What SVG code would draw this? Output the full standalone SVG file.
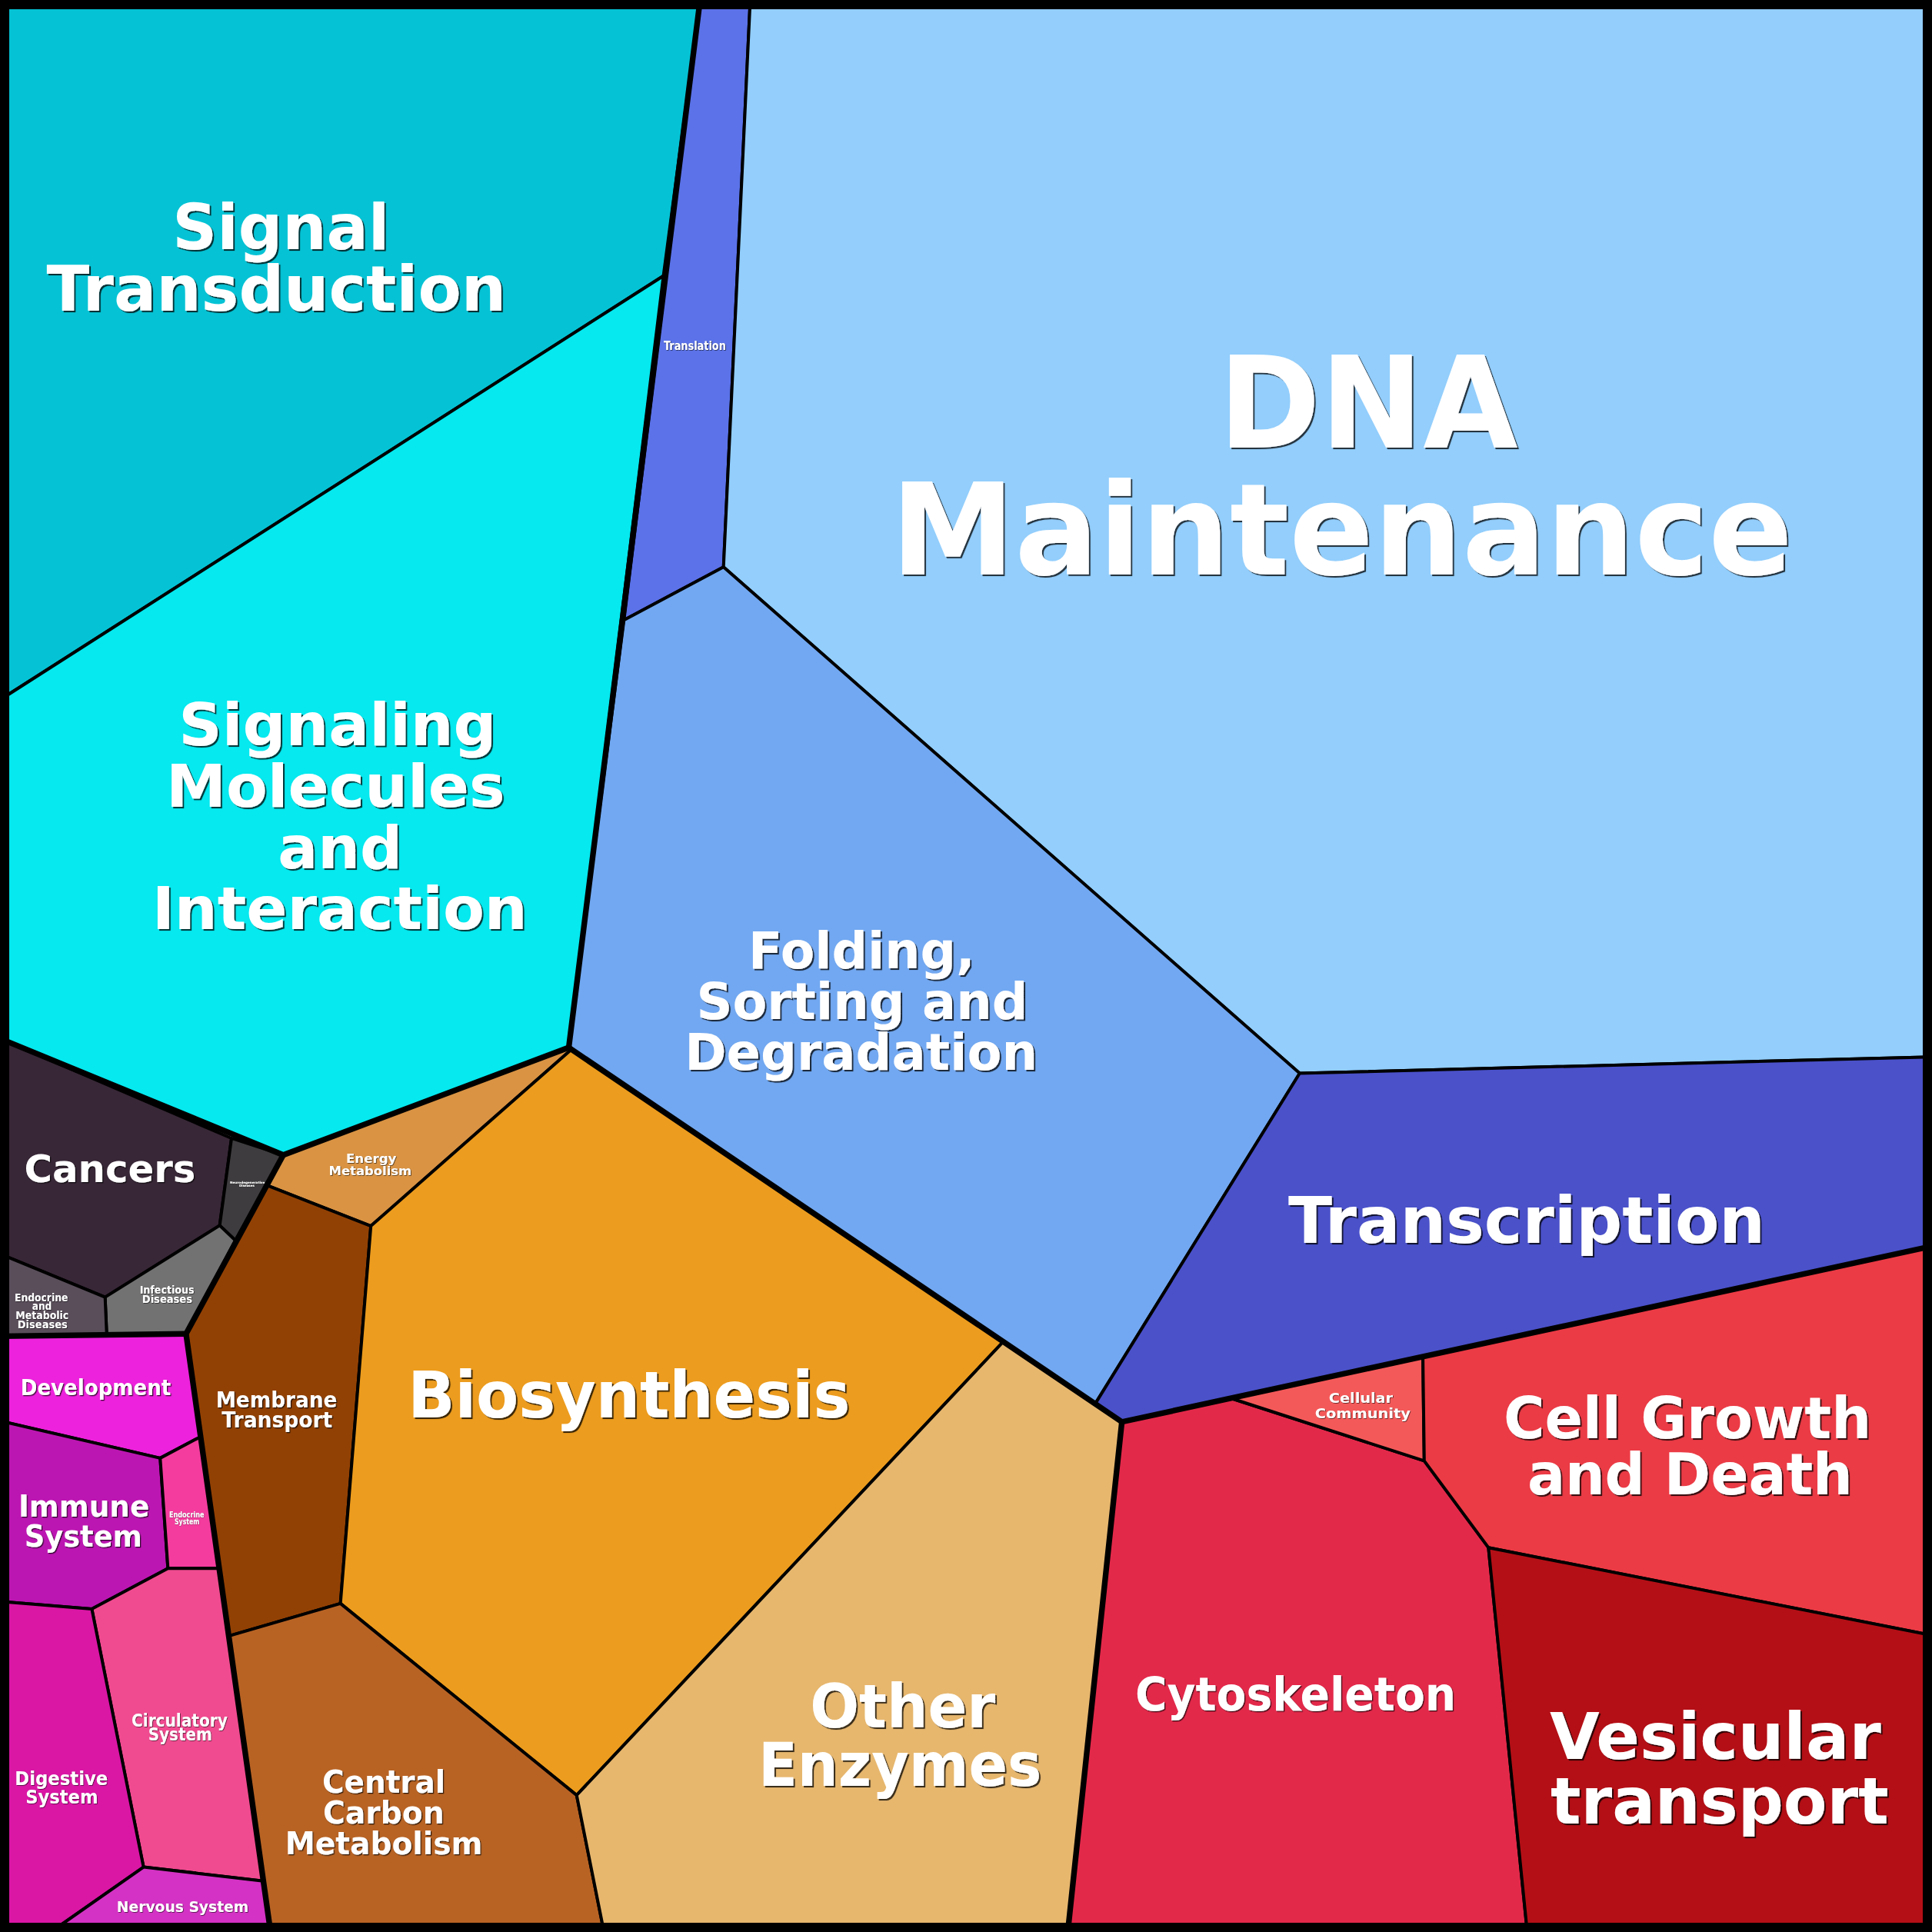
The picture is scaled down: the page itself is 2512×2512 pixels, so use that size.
<svg xmlns="http://www.w3.org/2000/svg" width="2512" height="2512" viewBox="0 0 2512 2512">
<defs>
<filter id="shL" x="-5%" y="-20%" width="115%" height="150%"><feDropShadow dx="1.3" dy="1.3" stdDeviation="0.4" flood-color="#000" flood-opacity="0.75"/></filter>
<filter id="shM" x="-5%" y="-20%" width="115%" height="150%"><feDropShadow dx="0.8" dy="0.8" stdDeviation="0.3" flood-color="#000" flood-opacity="0.75"/></filter>
<filter id="shS" x="-5%" y="-20%" width="115%" height="150%"><feDropShadow dx="0.45" dy="0.45" stdDeviation="0.2" flood-color="#000" flood-opacity="0.75"/></filter>
<filter id="shT" x="-10%" y="-40%" width="130%" height="200%"><feDropShadow dx="0.15" dy="0.15" stdDeviation="0.15" flood-color="#000" flood-opacity="0.8"/></filter>
</defs>
<style>
.c{stroke:#000;stroke-width:2.5;stroke-linejoin:round}
.b{fill:none;stroke:#000;stroke-width:4.6;stroke-linejoin:round;stroke-linecap:round}
text{font-family:"DejaVu Sans","Liberation Sans",sans-serif;font-weight:bold;fill:#fff;text-anchor:middle}
.L{filter:url(#shL)}
.M{filter:url(#shM)}
.S{filter:url(#shS)}
.T{filter:url(#shT)}
</style>
<g transform="scale(1.602041)">
<g id="signal-transduction">
<polygon class="c" fill="#05C3D5" points="0,0 568.2,0 538.4,223.9 0,568"/>
<text class="L" x="228" y="202" font-size="51" textLength="176" lengthAdjust="spacingAndGlyphs">Signal</text>
<text class="L" x="224.3" y="252" font-size="51" textLength="373" lengthAdjust="spacingAndGlyphs">Transduction</text>
</g>
<g id="signaling-molecules">
<polygon class="c" fill="#05E9EF" points="0,568 538.4,223.9 461.6,850.2 229.9,937.4 0,843"/>
<text class="L" x="274" y="605" font-size="48" textLength="258" lengthAdjust="spacingAndGlyphs">Signaling</text>
<text class="L" x="272.3" y="655" font-size="48" textLength="275" lengthAdjust="spacingAndGlyphs">Molecules</text>
<text class="L" x="276" y="704.7" font-size="48" textLength="101" lengthAdjust="spacingAndGlyphs">and</text>
<text class="L" x="275.7" y="754" font-size="48" textLength="304.6" lengthAdjust="spacingAndGlyphs">Interaction</text>
</g>
<g id="translation">
<polygon class="c" fill="#5B72E8" points="568.2,0 608.9,0 587.2,460.2 506.4,503.2"/>
<text class="S" x="563.9" y="284" font-size="10" textLength="50.5" lengthAdjust="spacingAndGlyphs">Translation</text>
</g>
<g id="dna-maintenance">
<polygon class="c" fill="#93CEFC" points="608.9,0 1568,0 1568,857.8 1054.8,871.1 587.2,460.2"/>
<text class="L" x="1110.5" y="363" font-size="104" textLength="243" lengthAdjust="spacingAndGlyphs">DNA</text>
<text class="L" x="1089" y="466" font-size="104" textLength="732" lengthAdjust="spacingAndGlyphs">Maintenance</text>
</g>
<g id="folding">
<polygon class="c" fill="#72A8F1" points="587.2,460.2 1054.8,871.1 888.8,1139.4 461.6,850.2 506.4,503.2"/>
<text class="L" x="699.3" y="786" font-size="41" textLength="183.8" lengthAdjust="spacingAndGlyphs">Folding,</text>
<text class="L" x="699.7" y="827.3" font-size="41" textLength="269" lengthAdjust="spacingAndGlyphs">Sorting and</text>
<text class="L" x="698.9" y="868.3" font-size="41" textLength="286.5" lengthAdjust="spacingAndGlyphs">Degradation</text>
</g>
<g id="transcription">
<polygon class="c" fill="#4A51C9" points="1054.8,871.1 1568,857.8 1568,1011.4 910.5,1154 888.8,1139.4"/>
<text class="L" x="1239" y="1009" font-size="52" textLength="387" lengthAdjust="spacingAndGlyphs">Transcription</text>
</g>
<g id="cancers">
<polygon class="c" fill="#382737" points="0,842.9 187.9,923.8 178.3,994.6 85.3,1052.8 0,1017.7"/>
<text class="M" x="89.2" y="959.2" font-size="31.5" textLength="139" lengthAdjust="spacingAndGlyphs">Cancers</text>
</g>
<g id="neurodegenerative-diseases">
<polygon class="c" fill="#3E3C3E" points="187.9,923.8 229.9,937.4 191,1006.7 178.3,994.6"/>
<text class="T" x="200.8" y="960.5" font-size="2.6" textLength="28.3" lengthAdjust="spacingAndGlyphs">Neurodegenerative</text>
<text class="T" x="200.3" y="963" font-size="2.6" textLength="12.3" lengthAdjust="spacingAndGlyphs">Diseases</text>
</g>
<g id="infectious-diseases">
<polygon class="c" fill="#737273" points="178.3,994.6 191,1006.7 151,1082.5 86.6,1082.8 85.3,1052.8"/>
<text class="S" x="135.5" y="1050.1" font-size="8.5" textLength="44.2" lengthAdjust="spacingAndGlyphs">Infectious</text>
<text class="S" x="135.7" y="1057.4" font-size="8.5" textLength="40.7" lengthAdjust="spacingAndGlyphs">Diseases</text>
</g>
<g id="endocrine-metabolic-diseases">
<polygon class="c" fill="#5A4E5B" points="0,1017.7 85.3,1052.8 86.6,1082.8 0,1084.5"/>
<text class="S" x="33.5" y="1056" font-size="8.5" textLength="43.3" lengthAdjust="spacingAndGlyphs">Endocrine</text>
<text class="S" x="34" y="1063.3" font-size="8.5" textLength="15.9" lengthAdjust="spacingAndGlyphs">and</text>
<text class="S" x="34.2" y="1070.5" font-size="8.5" textLength="43" lengthAdjust="spacingAndGlyphs">Metabolic</text>
<text class="S" x="34.5" y="1078.2" font-size="8.5" textLength="40.5" lengthAdjust="spacingAndGlyphs">Diseases</text>
</g>
<g id="development">
<polygon class="c" fill="#ED22DC" points="0,1084.5 151,1082.5 162.5,1166.2 130,1183.4 0,1153.2"/>
<text class="M" x="77.7" y="1132.2" font-size="17.5" textLength="122" lengthAdjust="spacingAndGlyphs">Development</text>
</g>
<g id="immune-system">
<polygon class="c" fill="#BC16B2" points="0,1153.2 130,1183.4 136.3,1272.9 74.5,1305.8 0,1299.7"/>
<text class="M" x="68.1" y="1231" font-size="24.5" textLength="106.3" lengthAdjust="spacingAndGlyphs">Immune</text>
<text class="M" x="67.6" y="1255" font-size="24.5" textLength="95.7" lengthAdjust="spacingAndGlyphs">System</text>
</g>
<g id="endocrine-system">
<polygon class="c" fill="#F43C9E" points="130,1183.4 162.5,1166.2 177.9,1272.9 136.3,1272.9"/>
<text class="T" x="151.5" y="1231.3" font-size="6" textLength="28.5" lengthAdjust="spacingAndGlyphs">Endocrine</text>
<text class="T" x="151.8" y="1237.3" font-size="6" textLength="20.2" lengthAdjust="spacingAndGlyphs">System</text>
</g>
<g id="circulatory-system">
<polygon class="c" fill="#F04B90" points="74.5,1305.8 136.3,1272.9 177.9,1272.9 213.7,1526.6 116.5,1515.3"/>
<text class="S" x="145.7" y="1401.5" font-size="14" textLength="78" lengthAdjust="spacingAndGlyphs">Circulatory</text>
<text class="S" x="146.2" y="1412.8" font-size="14" textLength="51.8" lengthAdjust="spacingAndGlyphs">System</text>
</g>
<g id="digestive-system">
<polygon class="c" fill="#DA16A5" points="0,1299.7 74.5,1305.8 116.5,1515.3 41.3,1568 0,1568"/>
<text class="S" x="49.8" y="1449" font-size="15" textLength="75.6" lengthAdjust="spacingAndGlyphs">Digestive</text>
<text class="S" x="50.2" y="1463.6" font-size="15" textLength="58.9" lengthAdjust="spacingAndGlyphs">System</text>
</g>
<g id="nervous-system">
<polygon class="c" fill="#D432C4" points="116.5,1515.3 213.7,1526.6 219.6,1568 41.3,1568"/>
<text class="S" x="148.3" y="1552" font-size="12.5" textLength="107" lengthAdjust="spacingAndGlyphs">Nervous System</text>
</g>
<g id="energy-metabolism">
<polygon class="c" fill="#D99343" points="229.9,937.4 461.6,850.2 463.8,851.7 301,995 216.6,962"/>
<text class="S" x="301.3" y="943.6" font-size="10" textLength="40.8" lengthAdjust="spacingAndGlyphs">Energy</text>
<text class="S" x="300.5" y="954" font-size="10" textLength="67.2" lengthAdjust="spacingAndGlyphs">Metabolism</text>
</g>
<g id="membrane-transport">
<polygon class="c" fill="#924104" points="216.6,962 301,995 276.3,1301.4 185.7,1327.8 151,1082.5"/>
<text class="M" x="224.4" y="1142" font-size="17.5" textLength="98.4" lengthAdjust="spacingAndGlyphs">Membrane</text>
<text class="M" x="224.9" y="1158.8" font-size="17.5" textLength="89.8" lengthAdjust="spacingAndGlyphs">Transport</text>
</g>
<g id="biosynthesis">
<polygon class="c" fill="#EC9C1E" points="463.8,851.7 814.3,1088.9 468,1457 276.3,1301.4 301,995"/>
<text class="L" x="510.5" y="1150.5" font-size="52" textLength="359" lengthAdjust="spacingAndGlyphs">Biosynthesis</text>
</g>
<g id="central-carbon-metabolism">
<polygon class="c" fill="#B86324" points="185.7,1327.8 276.3,1301.4 468,1457 490.2,1568 219.6,1568"/>
<text class="M" x="311.5" y="1455" font-size="25" textLength="100" lengthAdjust="spacingAndGlyphs">Central</text>
<text class="M" x="311.4" y="1480" font-size="25" textLength="98.4" lengthAdjust="spacingAndGlyphs">Carbon</text>
<text class="M" x="311.5" y="1505" font-size="25" textLength="160.2" lengthAdjust="spacingAndGlyphs">Metabolism</text>
</g>
<g id="other-enzymes">
<polygon class="c" fill="#E7B76E" points="814.3,1088.9 888.8,1139.4 910.5,1154 866.6,1568 490.2,1568 468,1457"/>
<text class="L" x="732.7" y="1401.8" font-size="49" textLength="150.4" lengthAdjust="spacingAndGlyphs">Other</text>
<text class="L" x="730.4" y="1449.2" font-size="49" textLength="230" lengthAdjust="spacingAndGlyphs">Enzymes</text>
</g>
<g id="cytoskeleton">
<polygon class="c" fill="#E3294A" points="910.5,1154 999,1134.8 1155.9,1185.6 1208,1256 1239.5,1568 866.6,1568"/>
<text class="M" x="1051.5" y="1388.3" font-size="37.6" textLength="260.5" lengthAdjust="spacingAndGlyphs">Cytoskeleton</text>
</g>
<g id="cellular-community">
<polygon class="c" fill="#F45959" points="999,1134.8 1154.8,1101.1 1155.9,1185.6"/>
<text class="S" x="1104.5" y="1138.5" font-size="11.5" textLength="52" lengthAdjust="spacingAndGlyphs">Cellular</text>
<text class="S" x="1106" y="1151" font-size="11.5" textLength="77.4" lengthAdjust="spacingAndGlyphs">Community</text>
</g>
<g id="cell-growth-and-death">
<polygon class="c" fill="#EB3B45" points="1154.8,1101.1 1568,1011.4 1568,1327.2 1208,1256 1155.9,1185.6"/>
<text class="L" x="1369.5" y="1167.2" font-size="47" textLength="298.4" lengthAdjust="spacingAndGlyphs">Cell Growth</text>
<text class="L" x="1371.6" y="1213" font-size="47" textLength="264" lengthAdjust="spacingAndGlyphs">and Death</text>
</g>
<g id="vesicular-transport">
<polygon class="c" fill="#B40F16" points="1208,1256 1568,1327.2 1568,1568 1239.5,1568"/>
<text class="L" x="1392.2" y="1427.7" font-size="52.4" textLength="268.8" lengthAdjust="spacingAndGlyphs">Vesicular</text>
<text class="L" x="1395.6" y="1479.8" font-size="52.4" textLength="274.4" lengthAdjust="spacingAndGlyphs">transport</text>
</g>
<g id="borders">
<polyline class="b" points="568.2,0 461.6,850.2"/>
<polyline class="b" points="0,842.9 229.9,937.4 461.6,850.2 910.5,1154 1568,1011.4"/>
<polyline class="b" points="229.9,937.4 151,1082.5 219.6,1568"/>
<polyline class="b" points="0,1084.5 151,1082.5"/>
<polyline class="b" points="910.5,1154 866.6,1568"/>
<rect x="0" y="0" width="1568" height="1568" fill="none" stroke="#000" stroke-width="15"/>
</g>
</g>
</svg>
